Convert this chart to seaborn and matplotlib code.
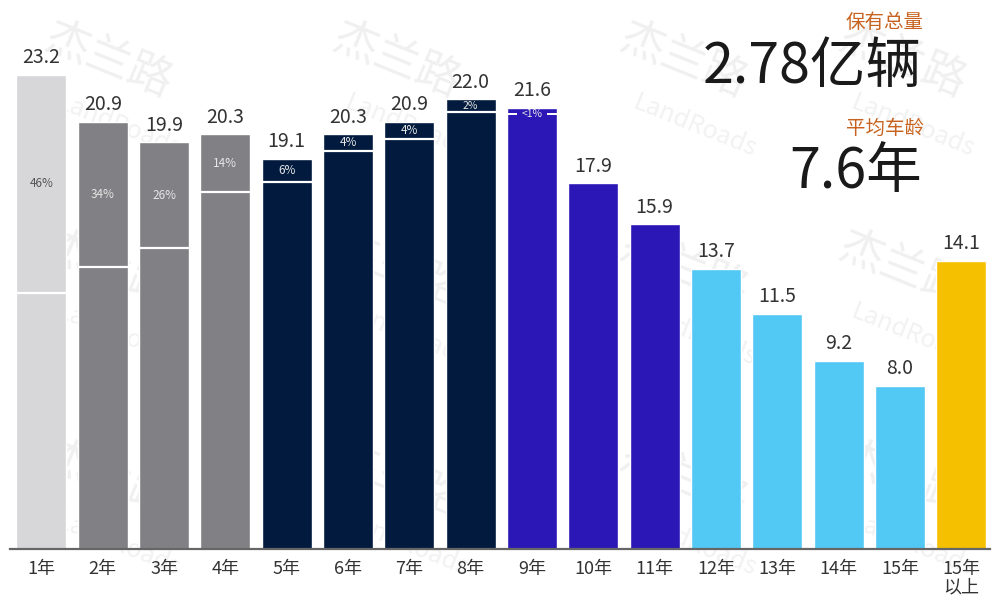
import matplotlib
matplotlib.use("Agg")
import matplotlib.pyplot as plt
import seaborn as sns

# vehicle age buckets and stock (million vehicles)
ages = ["1年", "2年", "3年", "4年", "5年", "6年", "7年", "8年",
        "9年", "10年", "11年", "12年", "13年", "14年", "15年", "15年\n以上"]
stock = [23.2, 20.9, 19.9, 20.3, 19.1, 20.3, 20.9, 22.0,
         21.6, 17.9, 15.9, 13.7, 11.5, 9.2, 8.0, 14.1]
# top-segment share labels (None = no segment)
seg_pct = [0.46, 0.34, 0.26, 0.14, 0.06, 0.04, 0.04, 0.02,
           0.01, None, None, None, None, None, None, None]
seg_lbl = ["46%", "34%", "26%", "14%", "6%", "4%", "4%", "2%",
           "<1%", "", "", "", "", "", "", ""]
bar_colors = ["#d7d7d9"] + ["#818185"] * 3 + ["#011a3e"] * 4 + \
             ["#2b17b5"] * 3 + ["#52c8f4"] * 4 + ["#f4c000"]

sns.set_theme(style="white")
plt.rcParams["font.family"] = ["Noto Sans CJK SC", "DejaVu Sans"]

fig = plt.figure(figsize=(9.92, 5.99), dpi=100)
ax = fig.add_axes([0.010, 0.0835, 0.988, 0.887])
ax.patch.set_visible(False)

# faint watermark, kept inside the canvas
for wx in [0.11, 0.40, 0.69, 0.91]:
    for wy in [0.90, 0.55, 0.20]:
        fig.text(wx, wy, "杰兰路", fontsize=32, color="#f0f0f0", rotation=-22,
                 ha="center", va="center", zorder=-2)
        fig.text(wx + 0.01, wy - 0.11, "LandRoads", fontsize=18, color="#f2f2f2",
                 rotation=-22, ha="center", va="center", zorder=-2)

sns.barplot(x=ages, y=stock, hue=ages, palette=bar_colors, legend=False,
            width=0.815, saturation=1, ax=ax)

ax.set_xlim(-0.514, 15.47)
ax.set_ylim(0, 26)

for i, p in enumerate(ax.patches):
    x0 = p.get_x()
    w = p.get_width()
    xc = x0 + w / 2
    v = stock[i]
    ax.text(xc, v + 0.32, f"{v:.1f}", ha="center", va="bottom",
            fontsize=14, color="#333333")
    pct = seg_pct[i]
    if pct is None:
        continue
    yb = v * (1 - pct)
    tc = "#555555" if i == 0 else "#e6e6e6"
    if pct >= 0.03:
        ax.hlines(yb, x0, x0 + w, color="white", lw=1.6, zorder=3)
        ax.text(xc, v - v * pct / 2, seg_lbl[i], ha="center", va="center",
                fontsize=8.5, color=tc, zorder=4)
    elif i == 7:
        ax.hlines(v - 0.62, x0, x0 + w, color="white", lw=1.6, zorder=3)
        ax.text(xc, v - 0.3, seg_lbl[i], ha="center", va="center",
                fontsize=7.5, color=tc, zorder=4)
    else:
        yl = v - 0.3
        ax.hlines(yl, x0, x0 + w * 0.2, color="white", lw=1.4, zorder=3)
        ax.hlines(yl, x0 + w * 0.8, x0 + w, color="white", lw=1.4, zorder=3)
        ax.text(xc, yl, seg_lbl[i], ha="center", va="center",
                fontsize=7.5, color=tc, zorder=4)

sns.despine(ax=ax, left=True)
ax.spines["bottom"].set_color("#666666")
ax.spines["bottom"].set_linewidth(1.6)
ax.set_yticks([])
ax.set_ylabel("")
ax.tick_params(axis="x", length=0, pad=8, labelsize=13, labelcolor="#333333")
for t in ax.get_xticklabels():
    t.set_va("top")
    t.set_linespacing(1.0)

# summary text top right
fig.text(0.931, 0.962, "保有总量", fontsize=14, color="#c8631f",
         ha="right", va="center")
fig.text(0.929, 0.887, "2.78亿辆", fontsize=40, color="#1a1a1a",
         ha="right", va="center")
fig.text(0.931, 0.786, "平均车龄", fontsize=14, color="#c8631f",
         ha="right", va="center")
fig.text(0.929, 0.712, "7.6年", fontsize=40, color="#1a1a1a",
         ha="right", va="center")

fig.savefig("out.png", dpi=100)
